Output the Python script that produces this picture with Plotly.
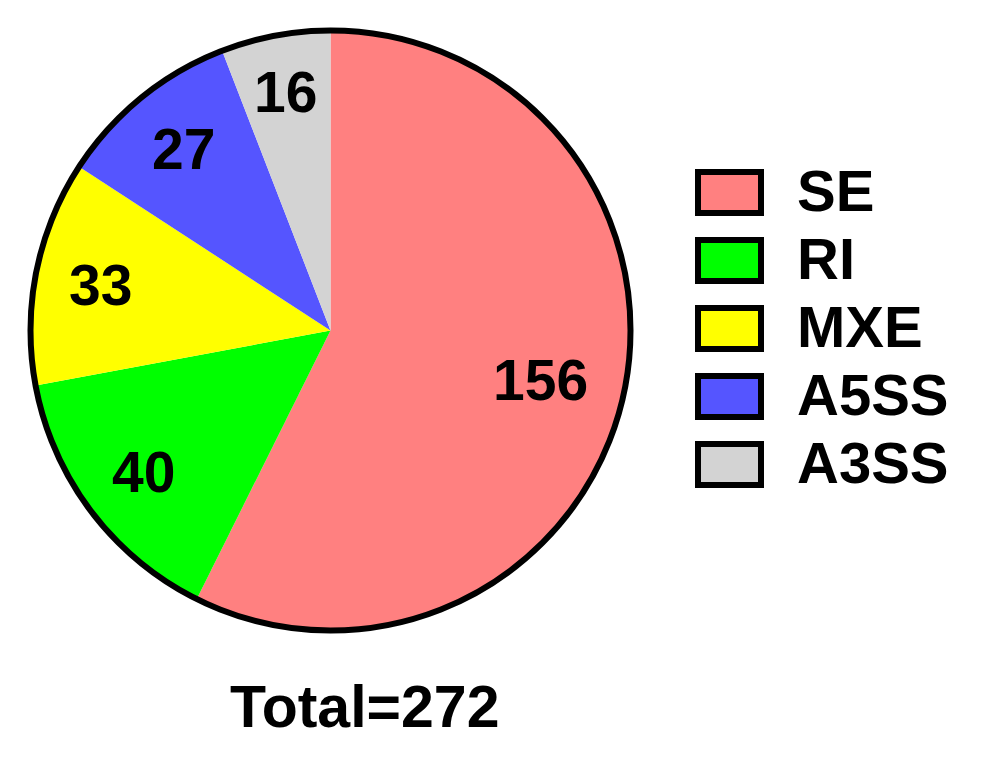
import math
import plotly.graph_objects as go

# event types and their counts
labels = ["SE", "RI", "MXE", "A5SS", "A3SS"]
counts = [156, 40, 33, 27, 16]
colors = ["#FF8080", "#00FF00", "#FFFF00", "#5555FF", "#D3D3D3"]

# how far out (fraction of radius) each value label sits
label_radius = [0.72, 0.78, 0.78, 0.78, 0.81]

W, H = 990, 783
OFF = 8  # page adds ~8px body margin, shift everything back
font_family = "Arial, Liberation Sans, sans-serif"

# pie square in pixels (center ~330, radius 300)
R = 300
cx, cy = 330.5 - OFF, 330.5 - OFF
dom = dict(x=[(cx - R) / W, (cx + R) / W], y=[1 - (cy + R) / H, 1 - (cy - R) / H])

pie = go.Pie(
    labels=labels,
    values=counts,
    marker=dict(colors=colors, line=dict(width=0)),
    sort=False,
    direction="clockwise",
    rotation=0,
    textinfo="none",
    domain=dom,
    showlegend=False,
    hoverinfo="label+value",
)

# outer black ring around the whole pie
outline = go.Pie(
    values=[sum(counts)],
    marker=dict(colors=["rgba(0,0,0,0)"], line=dict(color="black", width=6)),
    textinfo="none",
    domain=dom,
    showlegend=False,
    hoverinfo="skip",
    sort=False,
)

fig = go.Figure(data=[pie, outline])

annotations = []

# value labels at the middle angle of each slice
total = sum(counts)
cum = 0
for v, rf in zip(counts, label_radius):
    mid = (cum + v / 2) / total * 2 * math.pi
    cum += v
    lx = cx + rf * R * math.sin(mid)
    ly = cy - rf * R * math.cos(mid)
    annotations.append(dict(
        text=str(v), xref="paper", yref="paper",
        x=lx / W, y=1 - ly / H, xanchor="center", yanchor="middle",
        showarrow=False,
        font=dict(family=font_family, size=57, color="black", weight="bold"),
    ))

# hand-built legend: big boxes with black border
shapes = []
box_x0, box_x1 = 698 - OFF, 761 - OFF
top = 192.5 - OFF
step = 68
for i, (lab, col) in enumerate(zip(labels, colors)):
    yc = top + i * step
    shapes.append(dict(
        type="rect", xref="paper", yref="paper",
        x0=box_x0 / W, x1=box_x1 / W,
        y0=1 - (yc - 20.5) / H, y1=1 - (yc + 20.5) / H,
        fillcolor=col, line=dict(color="black", width=6),
    ))
    annotations.append(dict(
        text=lab, xref="paper", yref="paper",
        x=(795 - OFF) / W, y=1 - (yc - 2) / H, xanchor="left", yanchor="middle",
        showarrow=False,
        font=dict(family=font_family, size=58, color="black", weight="bold"),
    ))

annotations.append(dict(
    text=f"Total={total}", xref="paper", yref="paper",
    x=(364 - OFF) / W, y=1 - (707 - OFF) / H, xanchor="center", yanchor="middle",
    showarrow=False,
    font=dict(family=font_family, size=59, color="black", weight="bold"),
))

fig.update_layout(
    width=W, height=H,
    margin=dict(l=0, r=0, t=0, b=0),
    paper_bgcolor="white",
    plot_bgcolor="white",
    shapes=shapes,
    annotations=annotations,
)

fig.write_html("out.html")
